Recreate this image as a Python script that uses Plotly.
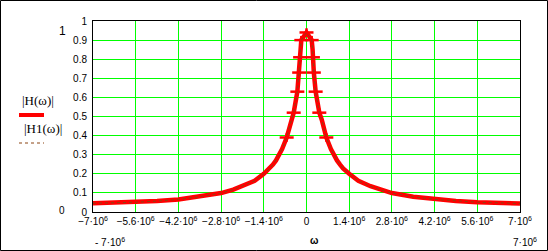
import plotly.graph_objects as go

# angular frequency (rad/s)
omega = [-7.0e6, -6.3e6, -5.6e6, -4.9e6, -4.2e6, -3.5e6, -2.8e6, -2.4e6, -2.1e6, -1.7e6, -1.4e6,
         -1.2e6, -1.1e6, -1.0e6, -0.9e6, -0.8e6, -0.65e6, -0.55e6, -0.5e6, -0.42e6, -0.3e6,
         -0.24e6, -0.21e6, -0.2e6, -0.17e6,
         0.0,
         0.17e6, 0.2e6, 0.21e6, 0.24e6,
         0.3e6, 0.42e6, 0.5e6, 0.55e6, 0.65e6, 0.8e6, 0.9e6, 1.0e6, 1.1e6, 1.2e6,
         1.4e6, 1.7e6, 2.1e6, 2.4e6, 2.8e6, 3.5e6, 4.2e6, 4.9e6, 5.6e6, 6.3e6, 7.0e6]
H_mag = [0.046, 0.048, 0.051, 0.057, 0.066, 0.080, 0.099, 0.117, 0.135, 0.163, 0.200,
         0.228, 0.248, 0.270, 0.297, 0.330, 0.390, 0.450, 0.483, 0.520, 0.630,
         0.730, 0.810, 0.850, 0.900,
         0.940,
         0.900, 0.850, 0.810, 0.730,
         0.630, 0.520, 0.483, 0.450, 0.390, 0.330, 0.297, 0.270, 0.248, 0.228,
         0.200, 0.163, 0.135, 0.117, 0.099, 0.080, 0.066, 0.057, 0.051, 0.048, 0.044]
H1_mag = list(H_mag)

# sample points that carry cross markers near the peak
mark_omega = [-0.65e6, -0.42e6, -0.3e6, -0.24e6, -0.21e6, -0.17e6, 0.0,
              0.17e6, 0.21e6, 0.24e6, 0.3e6, 0.42e6, 0.65e6]
mark_H = [0.390, 0.520, 0.630, 0.730, 0.810, 0.900, 0.940,
          0.900, 0.810, 0.730, 0.630, 0.520, 0.390]

xtick_vals = [-7.0e6, -5.6e6, -4.2e6, -2.8e6, -1.4e6, 0.0, 1.4e6, 2.8e6, 4.2e6, 5.6e6, 7.0e6]
xtick_text = ["\u22127\u00b710<sup>6</sup>", "\u22125.6\u00b710<sup>6</sup>", "\u22124.2\u00b710<sup>6</sup>",
              "\u22122.8\u00b710<sup>6</sup>", "\u22121.4\u00b710<sup>6</sup>", "0",
              "1.4\u00b710<sup>6</sup>", "2.8\u00b710<sup>6</sup>", "4.2\u00b710<sup>6</sup>",
              "5.6\u00b710<sup>6</sup>", "7\u00b710<sup>6</sup>"]
ytick_vals = [0, 0.1, 0.2, 0.3, 0.4, 0.5, 0.6, 0.7, 0.8, 0.9, 1.0]
ytick_text = ["0", "0.1", "0.2", "0.3", "0.4", "0.5", "0.6", "0.7", "0.8", "0.9", "1"]

W, H = 548, 251
L, R, T, B = 93, 520, 21, 212
pw, ph = R - L, B - T

def px(x):
    return (x - L) / pw

def py(y):
    return (B - y) / ph

RED = "#ff0000"
BROWN = "#8b4513"

fig = go.Figure()
fig.add_trace(go.Scatter(x=omega, y=H_mag, mode="lines", line=dict(color=RED, width=4.5),
                         showlegend=False, hoverinfo="skip"))
fig.add_trace(go.Scatter(x=mark_omega, y=mark_H, mode="markers",
                         marker=dict(symbol="line-ew", size=10, line=dict(color=RED, width=2.5)),
                         showlegend=False, hoverinfo="skip"))
fig.add_trace(go.Scatter(x=mark_omega, y=mark_H, mode="markers",
                         marker=dict(symbol="line-ns", size=6, line=dict(color=RED, width=2.5)),
                         showlegend=False, hoverinfo="skip"))
fig.add_trace(go.Scatter(x=omega, y=H1_mag, mode="lines", line=dict(color=BROWN, width=1, dash="3px,3px"),
                         showlegend=False, hoverinfo="skip"))

tickfont = dict(family="Liberation Sans, Arial", size=10, color="black")
fig.update_xaxes(range=[-7e6, 7e6], tickvals=xtick_vals, ticktext=xtick_text, tickfont=tickfont,
                 showgrid=True, gridcolor="#00ff00", gridwidth=1, zeroline=False,
                 showline=True, linecolor="black", linewidth=1, mirror=True, ticks="",
                 fixedrange=True)
fig.update_yaxes(range=[0, 1], tickvals=ytick_vals, ticktext=ytick_text, tickfont=tickfont,
                 showgrid=True, gridcolor="#00ff00", gridwidth=1, zeroline=False,
                 showline=True, linecolor="black", linewidth=1, mirror=True, ticks="",
                 ticklabelstandoff=3, fixedrange=True)

serif = dict(family="Liberation Serif, Times New Roman", size=13, color="black")
small = dict(family="Liberation Sans, Arial", size=10, color="black")
annotations = [
    dict(x=px(62), y=py(31), text="1", font=dict(family="Liberation Sans, Arial", size=12, color="black")),
    dict(x=px(62), y=py(210), text="0", font=small),
    dict(x=px(110), y=py(242), text="- 7\u00b710<sup>6</sup>", font=small),
    dict(x=px(525), y=py(242), text="7\u00b710<sup>6</sup>", font=small),
    dict(x=px(314), y=py(240), text="<b>\u03c9</b>", font=small),
    dict(x=px(38), y=py(100), text="|H(\u03c9)|", font=serif),
    dict(x=px(43), y=py(128), text="|H1(\u03c9)|", font=serif),
]
for a in annotations:
    a.update(xref="paper", yref="paper", showarrow=False, xanchor="center", yanchor="middle")

shapes = [
    dict(type="line", xref="paper", yref="paper", x0=px(19), x1=px(44), y0=py(115), y1=py(115),
         line=dict(color=RED, width=4)),
    dict(type="line", xref="paper", yref="paper", x0=px(19), x1=px(44), y0=py(143), y1=py(143),
         line=dict(color=BROWN, width=1, dash="3px,3px")),
    dict(type="rect", xref="paper", yref="paper", x0=px(0.5), x1=px(547.5), y0=py(250.5), y1=py(0.5),
         line=dict(color="black", width=1)),
]

fig.update_layout(width=W, height=H, margin=dict(l=L, r=W - R, t=T, b=H - B, pad=0),
                  paper_bgcolor="white", plot_bgcolor="white",
                  annotations=annotations, shapes=shapes, showlegend=False)

fig.write_html("out.html", config={"displayModeBar": False})
